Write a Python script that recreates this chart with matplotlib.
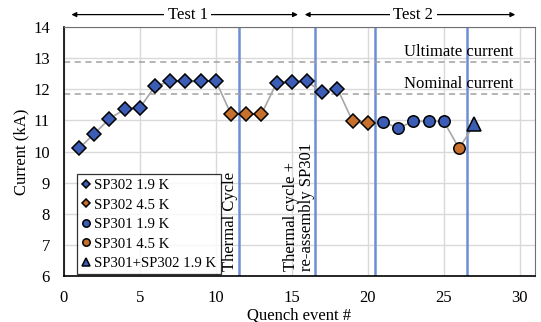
import matplotlib.pyplot as plt

plt.rcParams['font.family'] = ['Liberation Serif', 'DejaVu Serif']

# quench sequence
event = list(range(1, 28))
current = [10.10, 10.57, 11.05, 11.36, 11.40, 12.10, 12.25, 12.25, 12.25, 12.27,
           11.20, 11.20, 11.20, 12.21, 12.23, 12.25, 11.90, 12.02,
           10.97, 10.90, 10.95, 10.75, 10.97, 10.97, 10.97, 10.10, 10.87]

sp302_19_x = [1, 2, 3, 4, 5, 6, 7, 8, 9, 10, 14, 15, 16, 17, 18]
sp302_45_x = [11, 12, 13, 19, 20]
sp301_19_x = [21, 22, 23, 24, 25]
sp301_45_x = [26]
both_19_x = [27]

ultimate = 12.88
nominal = 11.86
events_lines = [11.5, 16.5, 20.5, 26.5]

blue = '#3B5DB5'
orange = '#C76F2C'

def vals(xs):
    return [current[event.index(x)] for x in xs]

fig = plt.figure(figsize=(5.41, 3.22), dpi=100)
ax = fig.add_axes([0.118, 0.143, 0.871, 0.773])

ax.plot(event, current, color='#A6A6A6', lw=1.2, zorder=2)
for xv in events_lines:
    ax.axvline(xv, color='#6E8ED4', lw=1.8, zorder=1.5)
ax.axhline(ultimate, color='#A0A0A0', lw=1.1, ls=(0, (4, 3)), zorder=1.5)
ax.axhline(nominal, color='#A0A0A0', lw=1.1, ls=(0, (4, 3)), zorder=1.5)

kw = dict(ls='none', mec='black', mew=1.1, zorder=3)
ax.plot(sp302_19_x, vals(sp302_19_x), marker='D', ms=6.8, mfc=blue, label='SP302 1.9 K', **kw)
ax.plot(sp302_45_x, vals(sp302_45_x), marker='D', ms=6.8, mfc=orange, label='SP302 4.5 K', **kw)
ax.plot(sp301_19_x, vals(sp301_19_x), marker='o', ms=8.2, mfc=blue, label='SP301 1.9 K', **kw)
ax.plot(sp301_45_x, vals(sp301_45_x), marker='o', ms=8.2, mfc=orange, label='SP301 4.5 K', **kw)
ax.plot(both_19_x, vals(both_19_x), marker='^', ms=9.5, mfc=blue, label='SP301+SP302 1.9 K', **kw)

ax.set_xlim(0, 31)
ax.set_ylim(6, 14)
ax.set_xticks(range(0, 31, 5))
ax.set_yticks(range(6, 15))
ax.tick_params(length=0, labelsize=12, pad=10)
ax.grid(True, color='#D9D9D9', lw=1.0, zorder=0)
ax.set_axisbelow(True)
for s in ['top', 'right']:
    ax.spines[s].set_color('#707070')
for s in ['left', 'bottom']:
    ax.spines[s].set_color('black')
    ax.spines[s].set_linewidth(1.2)

ax.set_xlabel('Quench event #', fontsize=12)
ax.xaxis.set_label_coords(0.5, -0.125)
ax.set_ylabel('Current (kA)', fontsize=12)
ax.yaxis.set_label_coords(-0.074, 0.5)

ax.text(29.6, ultimate + 0.06, 'Ultimate current', ha='right', va='bottom', fontsize=12)
ax.text(29.6, nominal + 0.06, 'Nominal current', ha='right', va='bottom', fontsize=12)

ax.text(10.95, 6.15, 'Thermal Cycle', rotation=90, ha='center', va='bottom',
        fontsize=12, zorder=6)
ax.text(15.45, 6.15, 'Thermal cycle +\nre-assembly SP301', rotation=90, ha='center',
        va='bottom', multialignment='left', fontsize=12, linespacing=1.0, zorder=6)

# test ranges above the plot
for x0, x1, lbl in [(0.5, 15.4, 'Test 1'), (15.85, 29.7, 'Test 2')]:
    ax.annotate('', xy=(x0, 14.4), xytext=(x1, 14.4), annotation_clip=False,
                arrowprops=dict(arrowstyle='<|-|>', color='black', lw=0.9,
                                mutation_scale=7, shrinkA=0, shrinkB=0))
    ax.text((x0 + x1) / 2 + 0.2, 14.4, lbl, ha='center', va='center', fontsize=12,
            bbox=dict(facecolor='white', edgecolor='none', pad=2.5), clip_on=False)

leg = ax.legend(loc='lower left', bbox_to_anchor=(0.025, 0.0), fontsize=10.6,
                markerscale=0.65, handlelength=0.6, handletextpad=0.25,
                borderpad=0.3, labelspacing=0.42, borderaxespad=0.1,
                frameon=True, fancybox=False, edgecolor='black')
leg.get_frame().set_linewidth(0.9)
leg.set_zorder(5)

fig.savefig('out.png', dpi=100)
